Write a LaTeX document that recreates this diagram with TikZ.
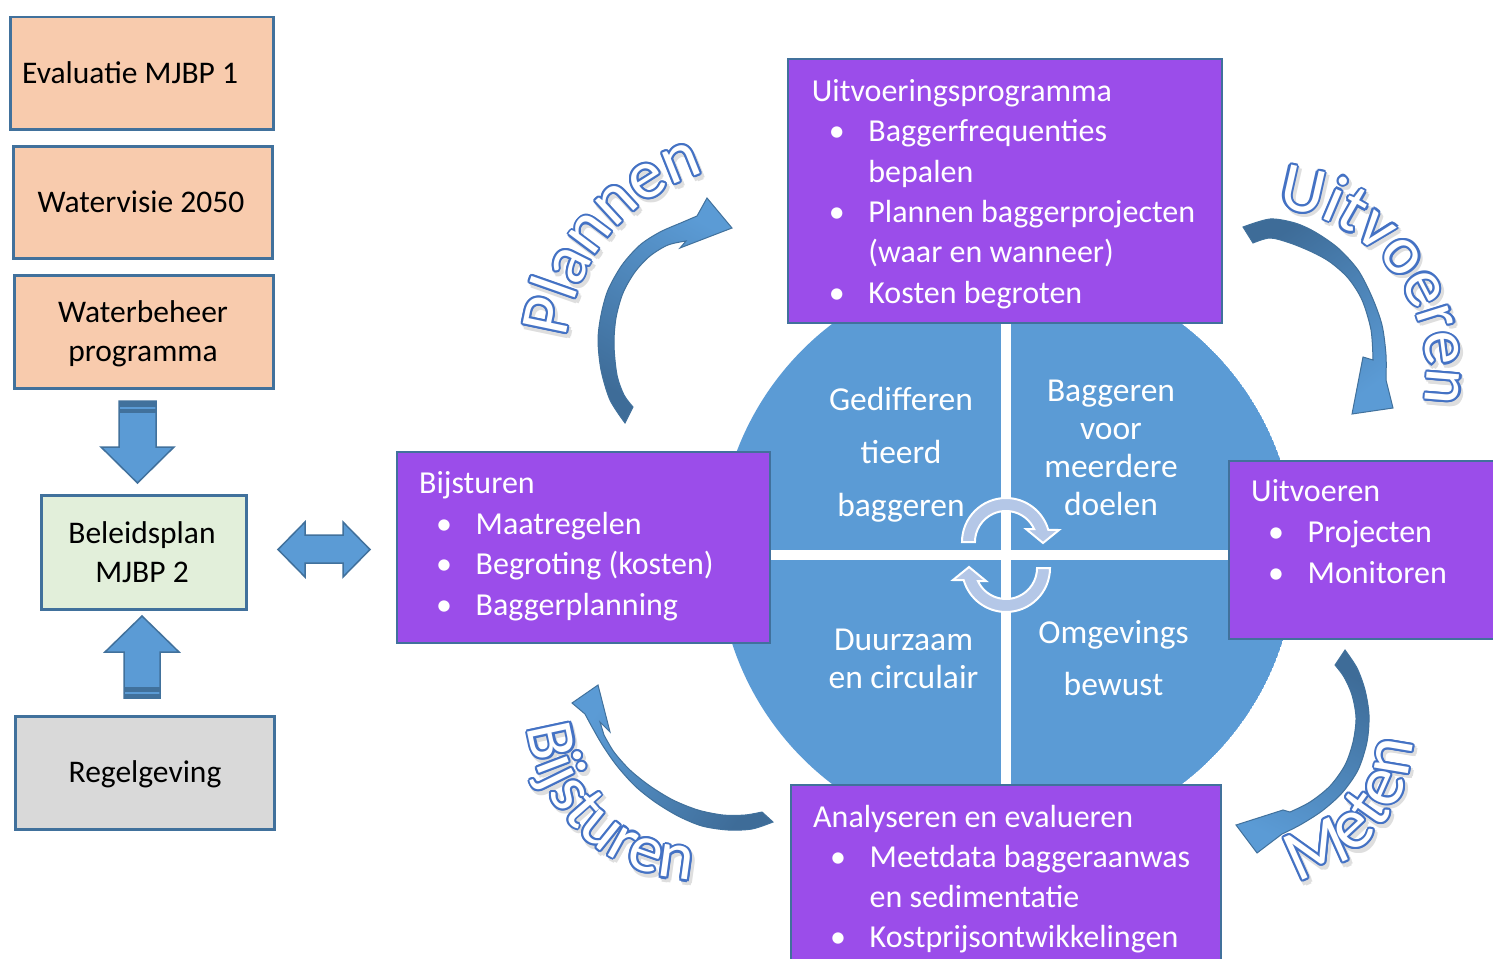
\documentclass[tikz,border=0pt]{standalone}
\usepackage{fontspec}
\setmainfont{Carlito}
\usetikzlibrary{decorations.text}
\definecolor{bordc}{RGB}{65,113,156}
\definecolor{peach}{RGB}{248,203,173}
\definecolor{pgreen}{RGB}{226,239,218}
\definecolor{pgray}{RGB}{217,217,217}
\definecolor{purp}{RGB}{155,77,234}
\definecolor{cblue}{RGB}{91,155,213}
\definecolor{lblue}{RGB}{180,199,231}
\definecolor{tailc}{RGB}{62,108,152}
\definecolor{waline}{RGB}{68,114,196}
\newcommand\tlines[1]{\begin{tabular}[t]{@{}l@{}}#1\end{tabular}}
\newcommand\clines[1]{\begin{tabular}[t]{@{}c@{}}#1\end{tabular}}
\newcommand\bul{\makebox[56.5pt][l]{\hspace*{17pt}•}}
\newcommand\cont{\hspace*{56.5pt}}
\newcommand\wordart[6]{%
 \foreach \a in {0,60,...,300}{
   \path[decorate, decoration={text along path, text align=center, text={|\fontsize{#6}{#6}\selectfont\color{black!13}|#5}}, shift={(2.5,-3.5)}, shift={(\a:2.5)}] ([shift={(#3:#2)}]#1) arc[start angle=#3, end angle=#4, radius=#2];}
 \foreach \a in {0,30,...,330}{
   \path[decorate, decoration={text along path, text align=center, text={|\fontsize{#6}{#6}\selectfont\color{waline}|#5}}, shift={(\a:2.1)}] ([shift={(#3:#2)}]#1) arc[start angle=#3, end angle=#4, radius=#2];}
 \path[decorate, decoration={text along path, text align=center, text={|\fontsize{#6}{#6}\selectfont\color{white}|#5}}] ([shift={(#3:#2)}]#1) arc[start angle=#3, end angle=#4, radius=#2];
}
\tikzset{
  lbox/.style={draw=bordc, line width=2.5pt, anchor=north west, inner sep=0pt},
  pbox/.style={draw=bordc, line width=2pt, anchor=north west, inner sep=0pt, fill=purp},
  ltxt/.style={inner sep=0pt, text=black, font=\fontsize{31.5}{39}\selectfont},
  ptxt/.style={anchor=base west, inner sep=0pt, text=white, font=\fontsize{32}{40.3}\selectfont},
  ctxt/.style={anchor=base, inner sep=0pt, text=white},
  blockarrow/.style={fill=cblue, draw=bordc, line width=1.5pt, line join=miter},
  carrow/.style={fill=lblue, draw=white, line width=2pt, line join=miter},
  bigarrow/.style={draw=bordc, line width=1pt, top color=cblue, bottom color=tailc},
}
\begin{document}
\begin{tikzpicture}[x=1pt, y=1pt]
\useasboundingbox (0,0) rectangle (1493,-958);
\clip (0,0) rectangle (1493,-958);
\fill[white] (0,0) rectangle (1493,-958);

% ---- central wheel ----
\begin{scope}
\clip (1007,-554) circle (289);
\fill[cblue] (1007,-554) circle (289);
\fill[white] (1001,-200) rectangle (1011,-900);
\fill[white] (700,-550) rectangle (1320,-559.5);
\end{scope}
\node[ctxt, font=\fontsize{33.5}{53}\selectfont] (q1) at (901,-410) {\clines{Gedifferen\\tieerd\\baggeren}};
\node[ctxt, font=\fontsize{33.5}{38}\selectfont] (q2) at (1111,-401) {\clines{Baggeren\\voor\\meerdere\\doelen}};
\node[ctxt, font=\fontsize{33.5}{38}\selectfont] (q3) at (903.5,-650) {\clines{Duurzaam\\en circulair}};
\node[ctxt, font=\fontsize{33.5}{52}\selectfont] (q4) at (1113.5,-643) {\clines{Omgevings\\bewust}};
% small cycle arrows
\path[carrow] ([shift={(180:44)}]1006,-542) arc[start angle=180, end angle=16, radius=44]
   -- (1059,-530) -- (1043,-543) -- (1026,-529) -- (1034.1,-529)
   arc[start angle=24.8, end angle=180, radius=31] -- cycle;
\path[carrow, rotate around={180:(1006,-555)}] ([shift={(180:44)}]1006,-542) arc[start angle=180, end angle=16, radius=44]
   -- (1059,-530) -- (1043,-543) -- (1026,-529) -- (1034.1,-529)
   arc[start angle=24.8, end angle=180, radius=31] -- cycle;

% ---- purple boxes ----
\node[pbox, minimum width=434pt, minimum height=264pt] (prog) at (787,-58) {};
\node[ptxt] (progt) at (811.7,-101.7) {\tlines{Uitvoeringsprogramma\\ \bul Baggerfrequenties\\ \cont bepalen\\ \bul Plannen baggerprojecten\\ \cont (waar en wanneer)\\ \bul Kosten begroten}};
\node[pbox, minimum width=373pt, minimum height=191pt] (bijs) at (396,-451) {};
\node[ptxt, font=\fontsize{32}{40.7}\selectfont] (bijst) at (419,-493.5) {\tlines{Bijsturen\\ \bul Maatregelen\\ \bul Begroting (kosten)\\ \bul Baggerplanning}};
\node[pbox, minimum width=300pt, minimum height=178pt] (uitv) at (1228,-460) {};
\node[ptxt, font=\fontsize{32}{41}\selectfont] (uitvt) at (1251,-501.5) {\tlines{Uitvoeren\\ \bul Projecten\\ \bul Monitoren}};
\node[pbox, minimum width=430pt, minimum height=220pt] (anal) at (790,-784) {};
\node[ptxt] (analt) at (813,-827) {\tlines{Analyseren en evalueren\\ \bul Meetdata baggeraanwas\\ \cont en sedimentatie\\ \bul Kostprijsontwikkelingen}};

% ---- left column ----
\node[lbox, fill=peach, minimum width=263pt, minimum height=112pt] (eval) at (9,-16) {};
\node[ltxt, anchor=base west] (evalt) at (22,-83) {Evaluatie MJBP 1};
\node[lbox, fill=peach, minimum width=259pt, minimum height=112pt] (wv) at (12,-145) {};
\node[ltxt, anchor=base] (wvt) at (141,-212) {Watervisie 2050};
\node[lbox, fill=peach, minimum width=259pt, minimum height=113pt] (wbp) at (13,-274) {};
\node[ltxt, anchor=base] (wbpt) at (143,-322) {\clines{Waterbeheer\\programma}};
\node[lbox, fill=pgreen, minimum width=205pt, minimum height=114pt] (bp) at (40,-494) {};
\node[ltxt, anchor=base] (bpt) at (142,-543) {\clines{Beleidsplan\\MJBP 2}};
\node[lbox, fill=pgray, minimum width=259pt, minimum height=113pt] (rg) at (14,-715) {};
\node[ltxt, anchor=base] (rgt) at (145,-782) {Regelgeving};

% block arrows
\path[blockarrow] (119,-401) -- (156,-401) -- (156,-447) -- (174,-447) -- (137.5,-483) -- (101,-447) -- (119,-447) -- cycle;
\fill[bordc] (119,-401) rectangle (156,-407);
\fill[bordc] (119,-409) rectangle (156,-413);
\path[blockarrow] (124,-698) -- (160,-698) -- (160,-652) -- (179,-652) -- (142,-616) -- (105,-652) -- (124,-652) -- cycle;
\fill[bordc] (124,-687) rectangle (160,-692);
\fill[bordc] (124,-693.5) rectangle (160,-698);
\path[blockarrow] (278,-549.5) -- (305,-522) -- (305,-535) -- (343,-535) -- (343,-522) -- (370,-549.5) -- (343,-577) -- (343,-563) -- (305,-563) -- (305,-577) -- cycle;

% ---- big curved arrows ----
\path[bigarrow, shading angle=-30]
  plot[smooth] coordinates {(625,-423) (610,-400) (601,-370) (598,-340) (601,-315) (608,-290) (622,-265) (640,-245) (660,-232) (683,-222) (697,-216)}
  -- (707,-198) -- (732,-228) -- (680,-248)
  -- plot[smooth] coordinates {(686,-241) (668,-245) (650,-256) (635,-272) (623,-293) (616,-318) (614,-345) (617,-375) (624,-395) (633,-407)} -- cycle;
\path[bigarrow, shading angle=-144]
  plot[smooth] coordinates {(1243,-227) (1270,-219) (1295,-223) (1315,-232) (1338,-248) (1358,-270) (1372,-297) (1382,-325) (1386,-355) (1386,-380)}
  -- (1393,-408) -- (1352,-414) -- (1363,-357)
  -- plot[smooth] coordinates {(1373,-360) (1371,-330) (1362,-300) (1348,-278) (1330,-262) (1312,-252) (1290,-243) (1270,-238) (1253,-243)} -- cycle;
\path[bigarrow, shading angle=154]
  plot[smooth] coordinates {(1345,-650) (1357,-668) (1365,-690) (1369,-715) (1367,-742) (1358,-770) (1342,-793) (1322,-811) (1300,-825) (1282,-834)}
  -- (1257,-853) -- (1236,-825) -- (1283,-810)
  -- plot[smooth] coordinates {(1290,-812) (1310,-802) (1330,-786) (1345,-765) (1353,-742) (1356,-718) (1352,-695) (1344,-677) (1335,-665)} -- cycle;
\path[bigarrow, shading angle=57]
  plot[smooth] coordinates {(773,-822) (752,-829) (728,-830) (702,-826) (678,-816) (655,-802) (635,-786) (617,-766) (603,-746) (592,-727) (585,-714)}
  -- (572,-703) -- (598,-685) -- (610,-732) -- (600,-722)
  -- plot[smooth] coordinates {(604,-735) (614,-752) (630,-770) (650,-786) (673,-800) (698,-810) (723,-815) (745,-815) (762,-812)} -- cycle;

% ---- word-art labels ----
\wordart{760,-360}{195}{180}{100}{Plannen}{69}
\wordart{1262,-372}{165}{112}{-38}{Uitvoeren}{68}
\wordart{1265,-735}{148}{-88}{8}{Meten}{72}
\wordart{697,-710}{170}{178}{276}{Bijsturen}{67}
\end{tikzpicture}
\end{document}
